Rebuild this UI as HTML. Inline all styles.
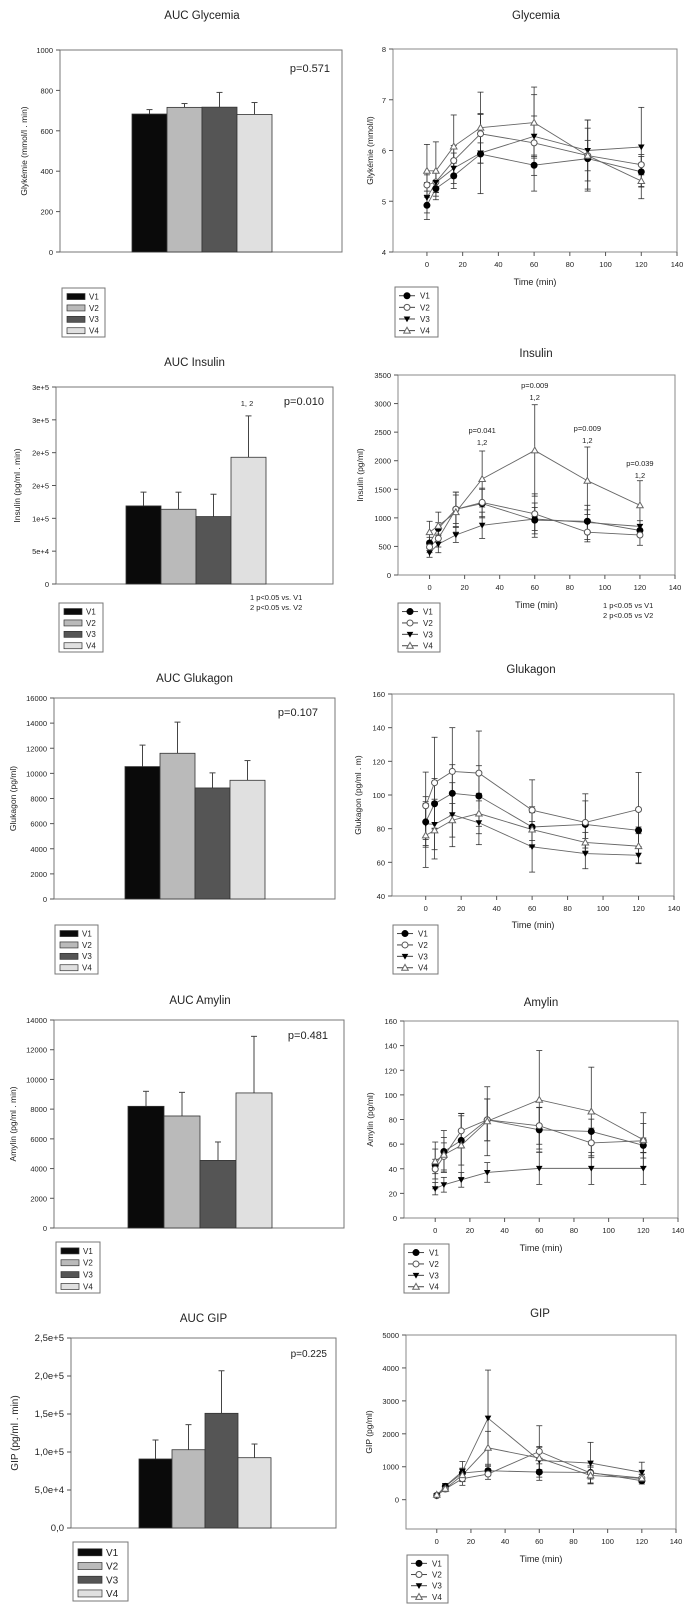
<!DOCTYPE html>
<html><head><meta charset="utf-8">
<style>
html,body{margin:0;padding:0;background:#fff;}
svg{display:block;font-family:"Liberation Sans",sans-serif;}
</style></head>
<body>
<svg id="fig" width="695" height="1613" viewBox="0 0 695 1613" xmlns="http://www.w3.org/2000/svg"></svg>
<script>
const groups=['V1','V2','V3','V4'];
const times=[0,5,15,30,60,90,120];
const xTicks=[0,20,40,60,80,100,120,140];

const aucGlyVal=[683,716,717,681];
const aucGlyErr=[22,19,73,59];
const aucGlyTicks=[0,200,400,600,800,1000];
const aucGlyLabels=['0','200','400','600','800','1000'];

const aucInsVal=[118900,113800,102700,193000];
const aucInsErr=[21000,26000,34000,63000];
const aucInsTicks=[0,50000,100000,150000,200000,250000,300000];
const aucInsLabels=['0','5e+4','1e+5','2e+5','2e+5','3e+5','3e+5'];

const aucGluVal=[10540,11600,8840,9450];
const aucGluErr=[1710,2480,1200,1570];
const aucGluTicks=[0,2000,4000,6000,8000,10000,12000,14000,16000];
const aucGluLabels=['0','2000','4000','6000','8000','10000','12000','14000','16000'];

const aucAmyVal=[8190,7540,4550,9090];
const aucAmyErr=[1010,1590,1240,3810];
const aucAmyTicks=[0,2000,4000,6000,8000,10000,12000,14000];
const aucAmyLabels=['0','2000','4000','6000','8000','10000','12000','14000'];

const aucGipVal=[90800,103000,150900,92500];
const aucGipErr=[25000,33000,56000,18000];
const aucGipTicks=[0,50000,100000,150000,200000,250000];
const aucGipLabels=['0,0','5,0e+4','1,0e+5','1,5e+5','2,0e+5','2,5e+5'];

const glyV1=[4.92,5.25,5.5,5.93,5.71,5.84,5.58];
const glyV1e=[0.28,0.15,0.25,0.78,0.2,0.6,0.3];
const glyV2=[5.32,5.38,5.8,6.33,6.15,5.9,5.72];
const glyV2e=[0.2,0.2,0.3,0.4,0.95,0.7,0.2];
const glyV3=[5.07,5.37,5.65,5.95,6.28,6.0,6.07];
const glyV3e=[0.3,0.2,0.3,0.2,0.4,0.6,0.78];
const glyV4=[5.6,5.6,6.08,6.45,6.55,5.9,5.4];
const glyV4e=[0.52,0.57,0.62,0.7,0.7,0.3,0.35];
const glyTicks=[4,5,6,7,8];

const insV1=[560,815,1150,1250,960,940,780];
const insV1e=[100,100,250,250,300,200,100];
const insV2=[490,640,1150,1270,1070,750,700];
const insV2e=[100,150,300,250,350,170,180];
const insV3=[390,540,700,870,980,920,850];
const insV3e=[80,150,130,230,200,300,100];
const insV4=[750,860,1100,1680,2180,1650,1220];
const insV4e=[190,240,350,490,800,590,430];
const insTicks=[0,500,1000,1500,2000,2500,3000,3500];

const gluV1=[84,94.8,101,99.4,81,82.5,79];
const gluV1e=[15,15,17,18,12,14,2];
const gluV2=[93.6,107.3,114,113,91,83.7,91.4];
const gluV2e=[20,27,26,25,18,17,22];
const gluV3=[83,82.5,88.3,83.5,69.2,65.2,64.2];
const gluV3e=[13,15,19,13,15,9,5];
const gluV4=[76,79,85,89,79.5,71.8,69.6];
const gluV4e=[19,17,10,12,10,6,10];
const gluTicks=[40,60,80,100,120,140,160];

const amyV1=[42.7,54,63,79.7,71.6,70.3,59];
const amyV1e=[19,17,20,17,18,10,6];
const amyV2=[39.7,50,70.8,79.7,74.9,61,62.7];
const amyV2e=[8,11,14,17,15,12,14];
const amyV3=[23.8,27,31,37,40.3,40.3,40.3];
const amyV3e=[5,6,6,8,13,13,13];
const amyV4=[46,51.4,59,78.6,96,86.5,63.5];
const amyV4e=[10,14,26,28,40,36,22];
const amyTicks=[0,20,40,60,80,100,120,140,160];

const gipV1=[131,404,808,879,838,828,576];
const gipV1e=[40,80,150,150,250,200,100];
const gipV2=[121,323,636,778,1465,808,657];
const gipV2e=[40,80,200,160,780,300,120];
const gipV3=[121,414,859,2475,1192,1111,828];
const gipV3e=[40,80,300,1460,400,630,310];
const gipV4=[151,333,747,1576,1263,737,646];
const gipV4e=[40,80,200,500,350,250,120];
const gipTicks=[0,1000,2000,3000,4000,5000];

const NS='http://www.w3.org/2000/svg';
const svg=document.getElementById('fig');
function mk(tag,attrs,parent){
  const e=document.createElementNS(NS,tag);
  for(const k in attrs){e.setAttribute(k,attrs[k]);}
  (parent||svg).appendChild(e);
  return e;
}
function nm(el,n,inter){
  
  
}
function txt(x,y,s,size,anchor,parent,extra){
  const t=mk('text',Object.assign({x:x,y:y,'font-size':size,'text-anchor':anchor||'middle',fill:'#222'},extra||{}),parent);
  t.textContent=s;
  return t;
}
const barFill=['#0a0a0a','#bababa','#555555','#e0e0e0'];

function barChart(c){
  const g=mk('g',{});
  nm(g,c.id+'-bar-chart');
  const [x0,y0,x1,y1]=c.box;
  const ys=v=>y1-(v-c.ticks[0])/(c.ticks[c.ticks.length-1]-c.ticks[0])*(y1-y0);
  let t=txt((x0+x1)/2+c.titleDx,c.titleY,c.title,11.5,'middle',g);
  nm(t,c.id+'-title');
  const frame=mk('rect',{x:x0,y:y0,width:x1-x0,height:y1-y0,fill:'none',stroke:'#777','stroke-width':1},g);
  nm(frame,c.id+'-plot-frame');
  c.ticks.forEach((v,i)=>{
    const yy=ys(v);
    const tk=mk('line',{x1:x0-4,x2:x0,y1:yy,y2:yy,stroke:'#555'},g);
    nm(tk,c.id+'-y-tick');
    const tl=txt(x0-7,yy+3,c.labels[i],c.tickSize,'end',g);
    nm(tl,c.id+'-y-tick-label');
  });
  const yl=txt(0,0,c.ylabel,c.ylabelSize,'middle',g,{transform:'translate('+c.ylabelX+','+((y0+y1)/2)+') rotate(-90)'});
  nm(yl,c.id+'-y-axis-title');
  c.values.forEach((v,i)=>{
    const bx=c.barX+i*c.barW;
    const top=ys(v+c.errs[i]);
    const el=mk('line',{x1:bx+c.barW/2,x2:bx+c.barW/2,y1:ys(v),y2:top,stroke:'#444'},g);
    nm(el,c.id+'-error-'+groups[i].toLowerCase());
    const cap=mk('line',{x1:bx+c.barW/2-3,x2:bx+c.barW/2+3,y1:top,y2:top,stroke:'#444'},g);
    nm(cap,c.id+'-error-cap-'+groups[i].toLowerCase());
    const r=mk('rect',{x:bx,y:ys(v),width:c.barW,height:y1-ys(v),fill:barFill[i],stroke:'#333','stroke-width':0.8},g);
    nm(r,c.id+'-bar-'+groups[i].toLowerCase());
  });
  const p=txt(c.pX,c.pY,c.p,c.pSize,'end',g);
  nm(p,c.id+'-p-value');
  const L=c.legend;
  const lb=mk('rect',{x:L[0],y:L[1],width:L[2]-L[0],height:L[3]-L[1],fill:'#fff',stroke:'#777'},g);
  nm(lb,c.id+'-legend');
  const step=(L[3]-L[1])/4.3;
  groups.forEach((gname,i)=>{
    const cy=L[1]+step*(i+0.75);
    const sw=mk('rect',{x:L[0]+5,y:cy-c.swH/2,width:c.swW,height:c.swH,fill:barFill[i],stroke:'#333','stroke-width':0.7},g);
    nm(sw,c.id+'-legend-swatch-'+gname.toLowerCase());
    const lt=txt(L[0]+c.swW+9,cy+c.legSize*0.36,gname,c.legSize,'start',g);
    nm(lt,c.id+'-legend-entry-'+gname.toLowerCase());
  });
  return g;
}

function marker(g,kind,x,y,id){
  let m;
  if(kind===0){m=mk('circle',{cx:x,cy:y,r:3,fill:'#000',stroke:'#000'},g);}
  else if(kind===1){m=mk('circle',{cx:x,cy:y,r:3,fill:'#fff',stroke:'#555'},g);}
  else if(kind===2){m=mk('polygon',{points:(x-3.3)+','+(y-2.5)+' '+(x+3.3)+','+(y-2.5)+' '+x+','+(y+3.3),fill:'#000'},g);}
  else {m=mk('polygon',{points:(x-3.3)+','+(y+2.5)+' '+(x+3.3)+','+(y+2.5)+' '+x+','+(y-3.3),fill:'#fff',stroke:'#666'},g);}
  nm(m,id);
  return m;
}

function lineChart(c){
  const g=mk('g',{});
  nm(g,c.id+'-line-chart');
  const [x0,y0,x1,y1]=c.box;
  const xs=v=>x0+(v-c.xmin)/(140-c.xmin)*(x1-x0);
  const ys=v=>y1-(v-c.ymin)/(c.ymax-c.ymin)*(y1-y0);
  let t=txt(c.titleX,c.titleY,c.title,11.5,'middle',g);
  nm(t,c.id+'-title');
  const frame=mk('rect',{x:x0,y:y0,width:x1-x0,height:y1-y0,fill:'none',stroke:'#888','stroke-width':1},g);
  nm(frame,c.id+'-plot-frame');
  c.ticks.forEach(v=>{
    const yy=ys(v);
    const tk=mk('line',{x1:x0-4,x2:x0,y1:yy,y2:yy,stroke:'#555'},g);
    nm(tk,c.id+'-y-tick');
    const tl=txt(x0-7,yy+3,String(v),7.5,'end',g);
    nm(tl,c.id+'-y-tick-label');
  });
  xTicks.forEach(v=>{
    const xx=xs(v);
    const tk=mk('line',{x1:xx,x2:xx,y1:y1,y2:y1+4,stroke:'#555'},g);
    nm(tk,c.id+'-x-tick');
    const tl=txt(xx,y1+15,String(v),7.5,'middle',g);
    nm(tl,c.id+'-x-tick-label');
  });
  const yl=txt(0,0,c.ylabel,8.5,'middle',g,{transform:'translate('+c.ylabelX+','+((y0+y1)/2)+') rotate(-90)'});
  nm(yl,c.id+'-y-axis-title');
  const xl=txt((x0+x1)/2,c.timeY,'Time (min)',9,'middle',g);
  nm(xl,c.id+'-x-axis-title');
  c.series.forEach((s,si)=>{
    const e=c.errs[si];
    s.forEach((v,i)=>{
      const xx=xs(times[i]);
      const el=mk('line',{x1:xx,x2:xx,y1:ys(v-e[i]),y2:ys(v+e[i]),stroke:'#333','stroke-width':0.8},g);
      nm(el,c.id+'-error-'+groups[si].toLowerCase());
      [v-e[i],v+e[i]].forEach(ev=>{
        const cp=mk('line',{x1:xx-3,x2:xx+3,y1:ys(ev),y2:ys(ev),stroke:'#333','stroke-width':0.8},g);
        nm(cp,c.id+'-error-cap-'+groups[si].toLowerCase());
      });
    });
  });
  c.series.forEach((s,si)=>{
    const pts=s.map((v,i)=>xs(times[i])+','+ys(v)).join(' ');
    const pl=mk('polyline',{points:pts,fill:'none',stroke:'#666','stroke-width':0.9},g);
    nm(pl,c.id+'-line-'+groups[si].toLowerCase());
  });
  c.series.forEach((s,si)=>{
    s.forEach((v,i)=>{marker(g,si,xs(times[i]),ys(v),c.id+'-point-'+groups[si].toLowerCase());});
  });
  const L=c.legend;
  const lb=mk('rect',{x:L[0],y:L[1],width:L[2]-L[0],height:L[3]-L[1],fill:'#fff',stroke:'#777'},g);
  nm(lb,c.id+'-legend');
  const step=(L[3]-L[1])/4.3;
  groups.forEach((gname,i)=>{
    const cy=L[1]+step*(i+0.75);
    const ll=mk('line',{x1:L[0]+4,x2:L[0]+20,y1:cy,y2:cy,stroke:'#444'},g);
    nm(ll,c.id+'-legend-line-'+gname.toLowerCase());
    marker(g,i,L[0]+12,cy,c.id+'-legend-marker-'+gname.toLowerCase());
    const lt=txt(L[0]+25,cy+3,gname,8,'start',g);
    nm(lt,c.id+'-legend-entry-'+gname.toLowerCase());
  });
  return {g:g,xs:xs,ys:ys};
}

barChart({id:'auc-glycemia',box:[60,50,342,252],ticks:aucGlyTicks,labels:aucGlyLabels,tickSize:7.5,
  title:'AUC Glycemia',titleDx:1,titleY:19,ylabel:'Glykémie (mmol/l . min)',ylabelX:27,ylabelSize:8.5,
  values:aucGlyVal,errs:aucGlyErr,barX:132,barW:35,p:'p=0.571',pX:330,pY:72,pSize:11,
  legend:[62,288,105,337],swW:18,swH:6,legSize:8});
barChart({id:'auc-insulin',box:[56,387,333,584],ticks:aucInsTicks,labels:aucInsLabels,tickSize:7.5,
  title:'AUC Insulin',titleDx:0,titleY:366,ylabel:'Insulin (pg/ml . min)',ylabelX:20,ylabelSize:8.5,
  values:aucInsVal,errs:aucInsErr,barX:126,barW:35,p:'p=0.010',pX:324,pY:405,pSize:11,
  legend:[59,603,103,652],swW:18,swH:6,legSize:8});
barChart({id:'auc-glukagon',box:[54,698,335,899],ticks:aucGluTicks,labels:aucGluLabels,tickSize:7.5,
  title:'AUC Glukagon',titleDx:0,titleY:682,ylabel:'Glukagon (pg/ml)',ylabelX:16,ylabelSize:8.5,
  values:aucGluVal,errs:aucGluErr,barX:125,barW:35,p:'p=0.107',pX:318,pY:716,pSize:11,
  legend:[55,925,98,974],swW:18,swH:6,legSize:8});
barChart({id:'auc-amylin',box:[54,1020,344,1228],ticks:aucAmyTicks,labels:aucAmyLabels,tickSize:7.5,
  title:'AUC Amylin',titleDx:1,titleY:1004,ylabel:'Amylin (pg/ml . min)',ylabelX:16,ylabelSize:8.5,
  values:aucAmyVal,errs:aucAmyErr,barX:128,barW:36,p:'p=0.481',pX:328,pY:1039,pSize:11,
  legend:[56,1242,100,1293],swW:18,swH:6,legSize:8});
barChart({id:'auc-gip',box:[71,1338,336,1528],ticks:aucGipTicks,labels:aucGipLabels,tickSize:9.5,
  title:'AUC GIP',titleDx:0,titleY:1322,ylabel:'GIP (pg/ml . min)',ylabelX:18,ylabelSize:10,
  values:aucGipVal,errs:aucGipErr,barX:139,barW:33,p:'p=0.225',pX:327,pY:1357,pSize:10,
  legend:[73,1542,128,1601],swW:24,swH:7,legSize:10});

// insulin AUC annotations
let a1=txt(247,406,'1, 2',7.5,'middle');
nm(a1,'auc-insulin-significance-label');
let f1=txt(250,600,'1 p<0.05 vs. V1',7.5,'start');
nm(f1,'auc-insulin-footnote-1');
let f2=txt(250,610,'2 p<0.05 vs. V2',7.5,'start');
nm(f2,'auc-insulin-footnote-2');

lineChart({id:'glycemia',box:[393,49,677,252],xmin:-19,ymin:4,ymax:8,ticks:glyTicks,
  title:'Glycemia',titleX:536,titleY:19,ylabel:'Glykémie (mmol/l)',ylabelX:373,timeY:285,
  series:[glyV1,glyV2,glyV3,glyV4],errs:[glyV1e,glyV2e,glyV3e,glyV4e],legend:[395,287,438,337]});
const ins=lineChart({id:'insulin',box:[398,375,675,575],xmin:-18,ymin:0,ymax:3500,ticks:insTicks,
  title:'Insulin',titleX:536,titleY:357,ylabel:'Insulin (pg/ml)',ylabelX:363,timeY:608,
  series:[insV1,insV2,insV3,insV4],errs:[insV1e,insV2e,insV3e,insV4e],legend:[398,603,440,652]});
const insAnnT=[30,60,90,120];
const insAnnP=['p=0.041','p=0.009','p=0.009','p=0.039'];
const insAnnY=[433,388,431,466];
insAnnT.forEach((tm,i)=>{
  const pa=txt(ins.xs(tm),insAnnY[i],insAnnP[i],7.5,'middle');
  nm(pa,'insulin-p-value-t'+tm);
  const sa=txt(ins.xs(tm),insAnnY[i]+12,'1,2',7.5,'middle');
  nm(sa,'insulin-significance-t'+tm);
});
let f3=txt(603,608,'1 p<0.05 vs V1',7.5,'start');
nm(f3,'insulin-footnote-1');
let f4=txt(603,618,'2 p<0.05 vs V2',7.5,'start');
nm(f4,'insulin-footnote-2');

lineChart({id:'glukagon',box:[392,694,674,896],xmin:-19,ymin:40,ymax:160,ticks:gluTicks,
  title:'Glukagon',titleX:531,titleY:673,ylabel:'Glukagon (pg/ml . m)',ylabelX:361,timeY:928,
  series:[gluV1,gluV2,gluV3,gluV4],errs:[gluV1e,gluV2e,gluV3e,gluV4e],legend:[393,925,438,974]});
lineChart({id:'amylin',box:[404,1021,678,1218],xmin:-18,ymin:0,ymax:160,ticks:amyTicks,
  title:'Amylin',titleX:541,titleY:1006,ylabel:'Amylin (pg/ml)',ylabelX:373,timeY:1251,
  series:[amyV1,amyV2,amyV3,amyV4],errs:[amyV1e,amyV2e,amyV3e,amyV4e],legend:[404,1244,449,1293]});
lineChart({id:'gip',box:[406,1335,676,1529],xmin:-18,ymin:-890,ymax:5000,ticks:gipTicks,
  title:'GIP',titleX:540,titleY:1317,ylabel:'GIP (pg/ml)',ylabelX:372,timeY:1562,
  series:[gipV1,gipV2,gipV3,gipV4],errs:[gipV1e,gipV2e,gipV3e,gipV4e],legend:[407,1555,448,1603]});
</script>
</body></html>
